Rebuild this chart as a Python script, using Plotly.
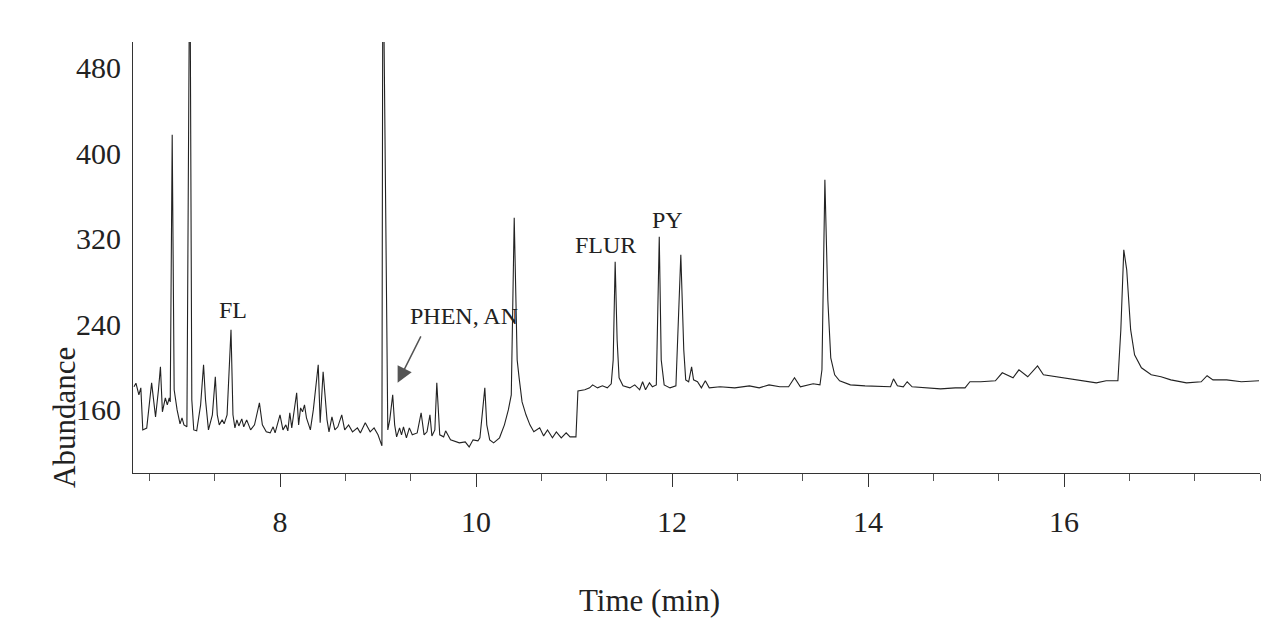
import plotly.graph_objects as go

# Retention time (min) and detector abundance
time_min = [
    6.51, 6.53, 6.56, 6.58, 6.60, 6.64, 6.69, 6.73, 6.76, 6.78, 6.80, 6.83, 6.85, 6.87, 6.88,
    6.90, 6.92, 6.95, 6.98, 7.00, 7.02, 7.05, 7.08, 7.10, 7.12, 7.15, 7.19, 7.22, 7.24, 7.27,
    7.31, 7.34, 7.36, 7.38, 7.41, 7.43, 7.46, 7.50, 7.52, 7.54, 7.56, 7.58, 7.61, 7.63, 7.66,
    7.70, 7.74, 7.79, 7.82, 7.86, 7.90, 7.93, 7.95, 8.00, 8.03, 8.06, 8.08, 8.10, 8.12, 8.17,
    8.19, 8.21, 8.23, 8.25, 8.27, 8.31, 8.34, 8.39, 8.41, 8.44, 8.48, 8.50, 8.53, 8.56, 8.59,
    8.63, 8.66, 8.70, 8.74, 8.79, 8.82, 8.87, 8.92, 8.96, 9.00, 9.04, 9.05, 9.10, 9.12, 9.15,
    9.17, 9.19, 9.22, 9.24, 9.26, 9.29, 9.32, 9.35, 9.40, 9.44, 9.47, 9.50, 9.53, 9.55, 9.58,
    9.60, 9.63, 9.67, 9.69, 9.74, 9.83, 9.89, 9.93, 9.97, 10.02, 10.04, 10.09, 10.11, 10.14, 10.18,
    10.24, 10.29, 10.33, 10.36, 10.39, 10.42, 10.44, 10.47, 10.51, 10.55, 10.59, 10.65, 10.69, 10.73, 10.78,
    10.82, 10.87, 10.92, 10.96, 11.02, 11.04, 11.11, 11.16, 11.19, 11.24, 11.29, 11.34, 11.38, 11.40, 11.42,
    11.44, 11.46, 11.50, 11.57, 11.62, 11.67, 11.70, 11.73, 11.77, 11.80, 11.84, 11.87, 11.89, 11.92, 11.98,
    12.04, 12.09, 12.12, 12.14, 12.17, 12.20, 12.22, 12.26, 12.30, 12.34, 12.38, 12.49, 12.64, 12.79, 12.89,
    12.99, 13.10, 13.19, 13.25, 13.31, 13.44, 13.51, 13.53, 13.56, 13.59, 13.62, 13.66, 13.71, 13.82, 13.97,
    14.12, 14.23, 14.26, 14.30, 14.36, 14.40, 14.45, 14.59, 14.74, 14.89, 14.99, 15.04, 15.15, 15.30, 15.37,
    15.48, 15.54, 15.63, 15.73, 15.79, 15.91, 16.04, 16.17, 16.33, 16.43, 16.55, 16.58, 16.61, 16.64, 16.68,
    16.72, 16.79, 16.89, 16.99, 17.09, 17.25, 17.40, 17.46, 17.52, 17.66, 17.81, 17.99,
]
abundance = [
    181.6, 185.0, 174.0, 180.6, 141.3, 143.0, 185.3, 153.5, 178.8, 200.3, 158.2, 171.3, 164.7, 171.3, 167.5,
    417.3, 178.8, 160.0, 147.0, 152.6, 146.0, 144.2, 620.0, 169.4, 141.3, 140.4, 164.7, 202.2, 169.4, 141.3,
    155.4, 191.0, 155.4, 146.0, 150.7, 147.0, 155.4, 234.9, 155.4, 143.2, 150.7, 145.0, 151.6, 144.2, 150.7,
    141.3, 146.0, 166.6, 146.0, 139.5, 138.5, 144.2, 138.5, 155.4, 141.3, 146.0, 140.4, 157.3, 143.2, 176.0,
    146.0, 161.9, 158.2, 164.7, 152.6, 141.3, 160.0, 202.2, 147.9, 195.6, 150.7, 139.5, 153.5, 141.3, 144.2,
    155.4, 141.3, 146.0, 139.5, 143.2, 138.5, 147.9, 139.5, 143.2, 136.7, 126.4, 620.0, 141.3, 150.7, 174.1,
    146.0, 134.8, 143.2, 136.7, 144.2, 133.9, 143.2, 136.7, 138.5, 157.3, 136.7, 139.5, 155.4, 135.7, 141.3,
    185.3, 136.7, 134.8, 140.4, 132.0, 129.2, 130.1, 125.4, 132.0, 131.1, 133.9, 180.6, 146.0, 132.0, 129.2,
    133.9, 146.0, 160.0, 174.1, 339.7, 206.8, 190.0, 167.5, 155.4, 146.0, 139.5, 143.2, 135.7, 141.3, 133.9,
    139.5, 133.9, 138.5, 134.8, 134.8, 177.8, 178.8, 180.6, 183.4, 180.6, 182.5, 180.6, 184.4, 206.8, 298.5,
    225.5, 190.0, 182.5, 180.6, 183.4, 178.8, 186.3, 178.8, 185.3, 181.6, 183.4, 321.9, 206.8, 183.4, 180.6,
    182.5, 305.0, 216.2, 188.1, 186.3, 200.3, 188.1, 186.3, 180.6, 187.2, 180.6, 181.6, 180.6, 182.5, 180.6,
    183.4, 181.6, 181.6, 190.0, 181.6, 184.4, 183.4, 197.5, 375.2, 263.0, 208.7, 192.8, 187.2, 183.4, 182.5,
    181.6, 181.6, 189.0, 182.5, 181.6, 186.3, 181.6, 180.6, 179.7, 180.6, 180.6, 186.3, 186.3, 187.2, 194.7,
    190.0, 197.5, 191.0, 201.2, 192.8, 191.0, 189.0, 187.2, 185.3, 187.2, 187.2, 235.0, 309.7, 291.0, 235.0,
    211.5, 199.4, 192.8, 191.0, 188.1, 185.3, 186.3, 192.0, 188.1, 188.1, 186.3, 187.2,
]

x_ticks = [8, 10, 12, 14, 16]
x_ticklabels = ["8", "10", "12", "14", "16"]
y_ticks = [160, 240, 320, 400, 480]
y_ticklabels = ["160", "240", "320", "400", "480"]

peak_labels = ["FL", "PHEN, AN", "FLUR", "PY"]
peak_label_time = [7.52, 9.88, 11.32, 11.95]
peak_label_abund = [253.6, 248.0, 314.4, 337.8]

FONT = "Liberation Serif, Times New Roman, serif"
INK = "#222222"

fig = go.Figure()
fig.add_trace(go.Scatter(
    x=time_min, y=abundance, mode="lines",
    line=dict(color=INK, width=1.1), showlegend=False, hoverinfo="x+y",
))

annotations = []
for lab, t, a in zip(peak_labels, peak_label_time, peak_label_abund):
    annotations.append(dict(x=t, y=a, xref="x", yref="y", text=lab, showarrow=False,
                            xanchor="center", yanchor="middle",
                            font=dict(family=FONT, size=24, color=INK)))
# arrow pointing to the PHEN, AN peak
annotations.append(dict(x=9.20, y=185.3, xref="x", yref="y", text="", showarrow=True,
                        ax=24, ay=-48, axref="pixel", ayref="pixel",
                        arrowhead=2, arrowsize=2.1, arrowwidth=1.5, arrowcolor="#555555"))
# axis titles placed as in the original figure
annotations.append(dict(x=(64 - 133) / 1127, y=(473 - 418) / 431, xref="paper", yref="paper",
                        xanchor="center", yanchor="middle",
                        text="Abundance", textangle=-90, showarrow=False,
                        font=dict(family=FONT, size=31, color=INK)))
annotations.append(dict(x=(649 - 133) / 1127, y=-(600 - 473) / 431, xref="paper", yref="paper",
                        xanchor="center", yanchor="middle",
                        text="Time (min)", showarrow=False,
                        font=dict(family=FONT, size=31, color=INK)))

fig.update_layout(
    width=1274, height=641,
    margin=dict(l=133, r=14, t=42, b=168),
    paper_bgcolor="white", plot_bgcolor="white",
    font=dict(family=FONT, color=INK),
    annotations=annotations,
    xaxis=dict(
        range=[6.5, 18], showgrid=False, zeroline=False,
        showline=True, linecolor="#333333", linewidth=1,
        ticks="outside", ticklen=13, tickwidth=1, tickcolor="#333333",
        tickmode="array", tickvals=x_ticks, ticktext=x_ticklabels,
        tickfont=dict(family=FONT, size=30, color=INK),
        ticklabelstandoff=9,
        minor=dict(ticks="outside", ticklen=7, tickwidth=1, tickcolor="#555555",
                   tickmode="linear", tick0=8, dtick=2 / 3, showgrid=False),
    ),
    yaxis=dict(
        range=[101, 504], showgrid=False, zeroline=False,
        showline=True, linecolor="#333333", linewidth=1,
        ticks="", tickmode="array", tickvals=y_ticks, ticktext=y_ticklabels,
        tickfont=dict(family=FONT, size=30, color=INK),
        ticklabelstandoff=5,
    ),
)

fig.write_html("out.html")
